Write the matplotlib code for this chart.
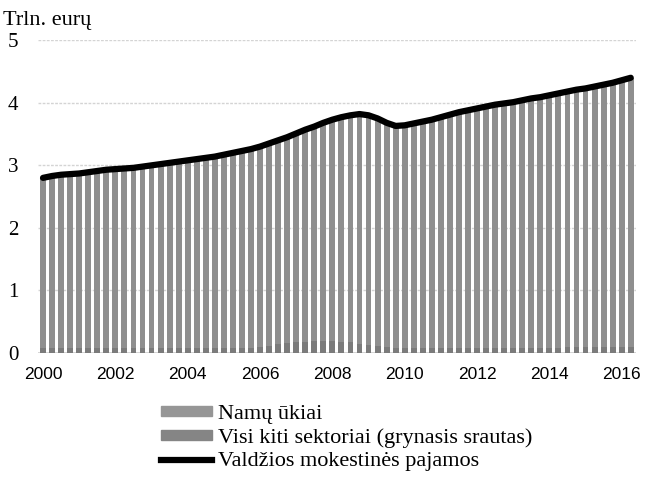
import numpy as np
import matplotlib.pyplot as plt
from matplotlib.patches import Patch
from matplotlib.lines import Line2D

# Ketvirčiai 2000 K1 - 2016 K2
metai = list(range(2000, 2017, 2))

# Namų ūkiai (trln. eurų)
namu_ukiai = [2.72, 2.75, 2.77, 2.78, 2.79, 2.81, 2.83, 2.85,
              2.86, 2.87, 2.88, 2.90, 2.92, 2.94, 2.96, 2.98,
              3.00, 3.02, 3.04, 3.06, 3.09, 3.12, 3.15, 3.18,
              3.20, 3.23, 3.26, 3.29, 3.34, 3.39, 3.43, 3.49,
              3.54, 3.59, 3.63, 3.67, 3.67, 3.64, 3.59, 3.55,
              3.56, 3.59, 3.62, 3.65, 3.69, 3.73, 3.77, 3.80,
              3.83, 3.86, 3.89, 3.91, 3.93, 3.96, 3.99, 4.01,
              4.04, 4.07, 4.09, 4.12, 4.14, 4.17, 4.19, 4.22,
              4.26, 4.30]

# Visi kiti sektoriai (grynasis srautas)
kiti = [0.08, 0.08, 0.08, 0.08, 0.08, 0.08, 0.08, 0.08,
        0.08, 0.08, 0.08, 0.08, 0.08, 0.08, 0.08, 0.08,
        0.08, 0.08, 0.08, 0.08, 0.08, 0.08, 0.08, 0.08,
        0.10, 0.12, 0.14, 0.16, 0.17, 0.18, 0.19, 0.19,
        0.19, 0.18, 0.17, 0.15, 0.13, 0.11, 0.09, 0.08,
        0.08, 0.08, 0.08, 0.08, 0.08, 0.08, 0.08, 0.08,
        0.08, 0.08, 0.08, 0.08, 0.08, 0.08, 0.08, 0.08,
        0.08, 0.08, 0.09, 0.09, 0.09, 0.09, 0.10, 0.10,
        0.10, 0.10]

# Valdžios mokestinės pajamos
pajamos = [2.80, 2.83, 2.85, 2.86, 2.87, 2.89, 2.91, 2.93,
           2.94, 2.95, 2.96, 2.98, 3.00, 3.02, 3.04, 3.06,
           3.08, 3.10, 3.12, 3.14, 3.17, 3.20, 3.23, 3.26,
           3.30, 3.35, 3.40, 3.45, 3.51, 3.57, 3.62, 3.68,
           3.73, 3.77, 3.80, 3.82, 3.80, 3.75, 3.68, 3.63,
           3.64, 3.67, 3.70, 3.73, 3.77, 3.81, 3.85, 3.88,
           3.91, 3.94, 3.97, 3.99, 4.01, 4.04, 4.07, 4.09,
           4.12, 4.15, 4.18, 4.21, 4.23, 4.26, 4.29, 4.32,
           4.36, 4.40]

x = np.arange(len(pajamos))

fig = plt.figure(figsize=(6.45, 4.79), dpi=100)
ax = fig.add_axes([0.0583, 0.263, 0.928, 0.653])

ax.bar(x, kiti, width=0.65, color="#7b7b7b", zorder=2)
ax.bar(x, namu_ukiai, bottom=kiti, width=0.65, color="#8f8f8f", zorder=2)
ax.plot(x, pajamos, color="black", lw=4.5, solid_capstyle="round", zorder=3)

ax.set_xlim(-0.6, len(x) - 0.4)
ax.set_ylim(0, 5)
ax.set_yticks(range(0, 6))
for v in range(1, 6):
    ax.axhline(v, color="#d4d4d4", lw=1.0, ls=(0, (2, 1)), zorder=1)
ax.axhline(0, color="#d0d0d0", lw=2, zorder=1)

ax.set_xticks([(m - 2000) * 4 for m in metai])
ax.set_xticklabels([str(m) for m in metai], family="Liberation Sans", fontsize=12.5)
ax.set_yticklabels([str(v) for v in range(0, 6)], family="Liberation Serif", fontsize=15)
ax.tick_params(length=0)
ax.tick_params(axis="x", pad=10)
ax.tick_params(axis="y", pad=14)
for s in ax.spines.values():
    s.set_visible(False)

fig.text(0.005, 0.978, "Trln. eurų", family="Liberation Serif", fontsize=16, va="top")

handles = [Patch(color="#969696"), Patch(color="#858585"),
           Line2D([], [], color="black", lw=4.5)]
labels = ["Namų ūkiai", "Visi kiti sektoriai (grynasis srautas)",
          "Valdžios mokestinės pajamos"]
fig.legend(handles, labels, loc="upper left", bbox_to_anchor=(0.25, 0.155),
           frameon=False, prop={"family": "Liberation Serif", "size": 16},
           handlelength=2.3, handleheight=0.33, handletextpad=0.25,
           labelspacing=0.2, borderpad=0, borderaxespad=0)

fig.savefig("out.png", dpi=100)
